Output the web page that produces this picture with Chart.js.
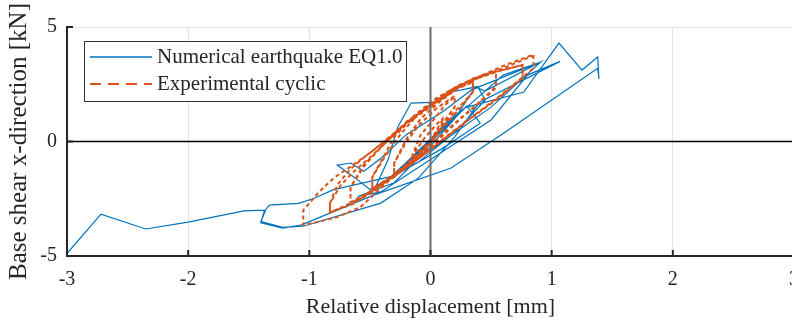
<!DOCTYPE html>
<html>
<head>
<meta charset="utf-8">
<script src="https://cdn.jsdelivr.net/npm/chart.js@4.4.1/dist/chart.umd.min.js"></script>
<style>
    body { margin: 0; overflow: hidden; background: #fff; }
    #wrap { position: absolute; left: 0; top: 0; }
</style>
</head>
<body>
<div id="wrap"><canvas id="hysteresisChart" width="830" height="325"></canvas></div>
<script>
// Axis ticks
const xTicks = [-3, -2, -1, 0, 1, 2, 3];
const yTicks = [-5, 0, 5];

// Series labels
const seriesLabels = ['Numerical earthquake EQ1.0', 'Experimental cyclic'];

// Numerical earthquake EQ1.0 [displacement mm, base shear kN]
const numerical = [
    [0, 0], [0.06, 0.35], [-0.04, -0.25], [0.09, 0.55], [-0.08, -0.5], [0.12, 0.75], [-0.12, -0.7],
    [0.08, 0.4], [-0.16, -0.9], [0.14, 0.9], [-0.2, -1.05], [0.17, 1.0], [-0.1, -0.6], [-0.24, -1.25],
    [0.2, 1.15], [0.05, 0.3], [-0.28, -1.4], [0.24, 1.3], [-0.32, -1.55], [0.15, 0.9], [0.28, 1.45],
    [-0.36, -1.7], [-0.2, -1.1], [0.3, 1.55], [0.41, 0.8], [0.1, -0.3], [-0.45, -1.95], [-0.35, -0.8],
    [-0.27, 0.63], [-0.16, 1.68], [0.06, 1.72], [0.17, 2.16], [0.39, 2.4], [0.45, 1.8], [0.2, 0.4],
    [-0.1, -0.9], [-0.5, -2.1], [-0.62, -1.6], [-0.77, -1.03], [-0.66, -0.94], [-0.55, -1.3], [-0.4, -0.7],
    [-0.2, 0.3], [0.1, 1.3], [0.37, 2.38], [0.45, 2.2], [0.91, 3.47], [0.5, 1.5], [0.1, 0.0],
    [-0.3, -1.5], [-0.8, -2.1], [-0.97, -2.5], [-1.09, -2.7], [-1.33, -2.78], [-1.36, -2.98],
    [-1.4, -3.5], [-1.22, -3.75], [-1.05, -3.7], [-0.41, -2.69], [-0.1, -1.6], [0.2, 0.2], [0.4, 1.7],
    [1.07, 3.5], [0.8, 2.9], [0.5, 0.94], [-0.41, -2.2], [-0.6, -2.4], [-0.3, -1.8], [0.0, -0.2],
    [0.2, 1.0], [0.36, 2.3], [0.91, 3.47], [0.6, 2.9], [0.3, 1.5], [0.77, 2.16], [1.06, 4.3],
    [1.25, 3.12], [1.38, 3.69], [1.39, 2.73], [1.38, 3.2], [0.6, 0.35], [0.17, -1.16], [-0.47, -2.34],
    [-1.07, -3.65], [-1.22, -3.78], [-1.4, -3.55], [-1.37, -3.0], [-1.54, -3.03], [-2.0, -3.52],
    [-2.35, -3.82], [-2.72, -3.17], [-3.05, -5.2]
];

// Experimental cyclic [displacement mm, base shear kN]
const experimental = [
    [0, 0], [0.05, 0.5], [0.1, 0.95], [0.1, 0.7], [0.0, 0.0], [-0.08, -0.55], [-0.15, -0.95], [-0.15, -0.65],
    [-0.05, 0.15], [0.05, 0.75], [0.1, 1.0], [0.1, 0.7], [0.0, -0.05], [-0.08, -0.6], [-0.15, -0.95], [-0.15, -0.6],
    [-0.08, 0.3], [0.05, 1.1], [0.12, 1.6], [0.2, 1.95], [0.2, 1.5], [0.12, 0.9], [0.02, 0.1], [-0.1, -0.6],
    [-0.2, -1.1], [-0.3, -1.55], [-0.3, -0.95], [-0.22, -0.2], [-0.1, 0.7], [0.05, 1.45], [0.2, 2.0], [0.2, 1.5],
    [0.1, 0.8], [0.0, 0.0], [-0.15, -0.9], [-0.3, -1.5], [-0.3, -0.95],
    [-0.2, 0.1], [-0.08, 1.0], [0.08, 1.75], [0.22, 2.3], [0.35, 2.6], [0.35, 2.15], [0.25, 1.5], [0.12, 0.7],
    [0.0, -0.05], [-0.15, -0.85], [-0.32, -1.55], [-0.48, -2.1], [-0.48, -1.55], [-0.38, -0.7], [-0.25, 0.3],
    [-0.1, 1.2], [0.08, 1.9], [0.22, 2.35], [0.35, 2.6], [0.35, 2.15], [0.2, 1.3], [0.05, 0.35], [-0.12, -0.6],
    [-0.3, -1.45], [-0.48, -2.05], [-0.48, -1.55],
    [-0.38, -0.6], [-0.3, 0.2], [-0.19, 0.8], [0.0, 1.5], [0.2, 2.35], [0.38, 2.8], [0.54, 3.03], [0.54, 2.34],
    [0.42, 1.75], [0.25, 1.0], [0.08, 0.15], [-0.1, -0.7], [-0.3, -1.5], [-0.48, -2.2], [-0.66, -2.65],
    [-0.66, -2.0], [-0.55, -1.1], [-0.42, -0.3], [-0.28, 0.4], [-0.12, 1.2], [0.05, 1.9], [0.25, 2.5],
    [0.42, 2.85], [0.54, 3.03], [0.54, 2.4], [0.4, 1.7], [0.2, 0.8], [0.0, -0.15], [-0.2, -1.05],
    [-0.42, -1.95], [-0.66, -2.65], [-0.66, -2.0],
    [-0.55, -1.0], [-0.45, -0.5], [-0.33, 0.2], [-0.19, 0.85], [0.0, 1.6], [0.12, 2.0], [0.3, 2.6], [0.55, 3.05],
    [0.76, 3.34], [0.76, 2.76], [0.55, 1.85], [0.33, 1.0], [0.12, 0.15], [-0.1, -0.75], [-0.35, -1.7],
    [-0.58, -2.5], [-0.83, -3.1], [-0.83, -2.7], [-0.74, -1.9], [-0.63, -1.3], [-0.5, -0.7], [-0.35, 0.05],
    [-0.2, 0.8], [0.0, 1.6], [0.2, 2.35], [0.5, 3.0], [0.76, 3.34], [0.76, 2.8], [0.55, 1.9], [0.3, 0.9],
    [0.05, -0.15], [-0.2, -1.15], [-0.45, -2.1], [-0.65, -2.75], [-0.83, -3.1], [-0.83, -2.7],
    [-0.77, -1.9], [-0.66, -1.2], [-0.55, -0.7], [-0.33, 0.2], [-0.19, 0.9], [0.0, 1.55], [0.12, 1.95],
    [0.3, 2.6], [0.6, 3.3], [0.85, 3.8], [0.85, 3.2], [0.6, 2.1], [0.35, 1.1], [0.1, 0.1], [-0.15, -0.9],
    [-0.35, -1.75], [-0.58, -2.87], [-0.77, -3.3], [-0.92, -3.5], [-1.05, -3.65], [-1.05, -3.0],
    [-0.92, -2.2], [-0.8, -1.6], [-0.66, -1.1], [-0.5, -0.5], [-0.35, 0.15], [-0.2, 0.8], [-0.05, 1.45],
    [0.15, 2.2], [0.35, 2.75], [0.6, 3.2], [0.85, 3.75]
];

const colors = {
    blue: '#0072BD',
    orange: '#D95319',
    axis: '#262626',
    grid: '#e3e3e3'
};
const fontFamily = '"Liberation Serif", "DejaVu Serif", serif';

// Zero lines, inward tick marks and the boxed legend
const overlayPlugin = {
    id: 'overlay',
    afterDatasetsDraw(chart) {
        const ctx = chart.ctx;
        const x = chart.scales.x;
        const y = chart.scales.y;
        const area = chart.chartArea;
        ctx.save();

        // vertical zero line
        ctx.strokeStyle = '#6b6b6b';
        ctx.lineWidth = 2;
        ctx.beginPath();
        ctx.moveTo(x.getPixelForValue(0), area.top);
        ctx.lineTo(x.getPixelForValue(0), area.bottom);
        ctx.stroke();

        // horizontal zero line
        ctx.strokeStyle = '#000';
        ctx.lineWidth = 1.5;
        ctx.beginPath();
        ctx.moveTo(area.left, y.getPixelForValue(0));
        ctx.lineTo(area.right + 10, y.getPixelForValue(0));
        ctx.stroke();

        // inward ticks
        ctx.strokeStyle = colors.axis;
        ctx.lineWidth = 2;
        xTicks.forEach(v => {
            const px = x.getPixelForValue(v);
            ctx.beginPath();
            ctx.moveTo(px, area.bottom);
            ctx.lineTo(px, area.bottom - 6);
            ctx.stroke();
        });
        yTicks.forEach(v => {
            const py = y.getPixelForValue(v);
            ctx.beginPath();
            ctx.moveTo(area.left, py);
            ctx.lineTo(area.left + 6, py);
            ctx.stroke();
        });

        // legend
        ctx.fillStyle = '#fff';
        ctx.fillRect(84, 41, 322, 60);
        ctx.strokeStyle = '#333';
        ctx.lineWidth = 1;
        ctx.strokeRect(84.5, 41.5, 322, 60);

        ctx.lineWidth = 1.3;
        ctx.strokeStyle = colors.blue;
        ctx.beginPath();
        ctx.moveTo(90, 57);
        ctx.lineTo(152, 57);
        ctx.stroke();

        ctx.lineWidth = 1.8;
        ctx.strokeStyle = colors.orange;
        ctx.setLineDash([11, 7]);
        ctx.beginPath();
        ctx.moveTo(90, 84);
        ctx.lineTo(152, 84);
        ctx.stroke();
        ctx.setLineDash([]);

        ctx.fillStyle = colors.axis;
        ctx.font = '21px ' + fontFamily;
        ctx.textBaseline = 'middle';
        ctx.fillText(seriesLabels[0], 157, 57);
        ctx.fillText(seriesLabels[1], 157, 84);
        ctx.restore();
    }
};

function initHysteresisChart() {
    new Chart(document.getElementById('hysteresisChart'), {
        type: 'scatter',
        data: {
            datasets: [{
                label: seriesLabels[0],
                data: numerical.map(p => ({ x: p[0], y: p[1] })),
                showLine: true,
                borderColor: colors.blue,
                borderWidth: 1.2,
                pointRadius: 0,
                tension: 0,
                order: 1
            }, {
                label: seriesLabels[1],
                data: experimental.map(p => ({ x: p[0], y: p[1] })),
                showLine: true,
                borderColor: colors.orange,
                borderWidth: 2,
                borderDash: [4, 3],
                pointRadius: 0,
                tension: 0,
                order: 0
            }]
        },
        options: {
            responsive: false,
            animation: false,
            layout: { padding: { left: 0, right: 36, top: 27, bottom: 0 } },
            plugins: {
                legend: { display: false },
                tooltip: { enabled: false }
            },
            scales: {
                x: {
                    type: 'linear',
                    min: -3,
                    max: 3,
                    afterFit: s => { s.height = 69; },
                    afterBuildTicks: s => { s.ticks = xTicks.map(v => ({ value: v })); },
                    grid: { color: colors.grid, drawTicks: false },
                    border: { color: colors.axis, width: 2 },
                    ticks: {
                        padding: 12,
                        color: colors.axis,
                        font: { family: fontFamily, size: 20 },
                        maxRotation: 0
                    },
                    title: {
                        display: true,
                        text: 'Relative displacement [mm]',
                        color: colors.axis,
                        font: { family: fontFamily, size: 22 },
                        padding: { top: 0, bottom: 5 }
                    }
                },
                y: {
                    type: 'linear',
                    min: -5,
                    max: 5,
                    afterFit: s => { s.width = 67; },
                    afterBuildTicks: s => { s.ticks = yTicks.map(v => ({ value: v })); },
                    grid: { color: colors.grid, drawTicks: false },
                    border: { color: colors.axis, width: 2 },
                    ticks: {
                        padding: 10,
                        color: colors.axis,
                        font: { family: fontFamily, size: 20 }
                    },
                    title: {
                        display: true,
                        text: 'Base shear x-direction [kN]',
                        color: colors.axis,
                        font: { family: fontFamily, size: 25 },
                        padding: { top: 4, bottom: 0 }
                    }
                }
            }
        },
        plugins: [overlayPlugin]
    });
}

document.addEventListener('DOMContentLoaded', initHysteresisChart);
</script>
</body>
</html>
